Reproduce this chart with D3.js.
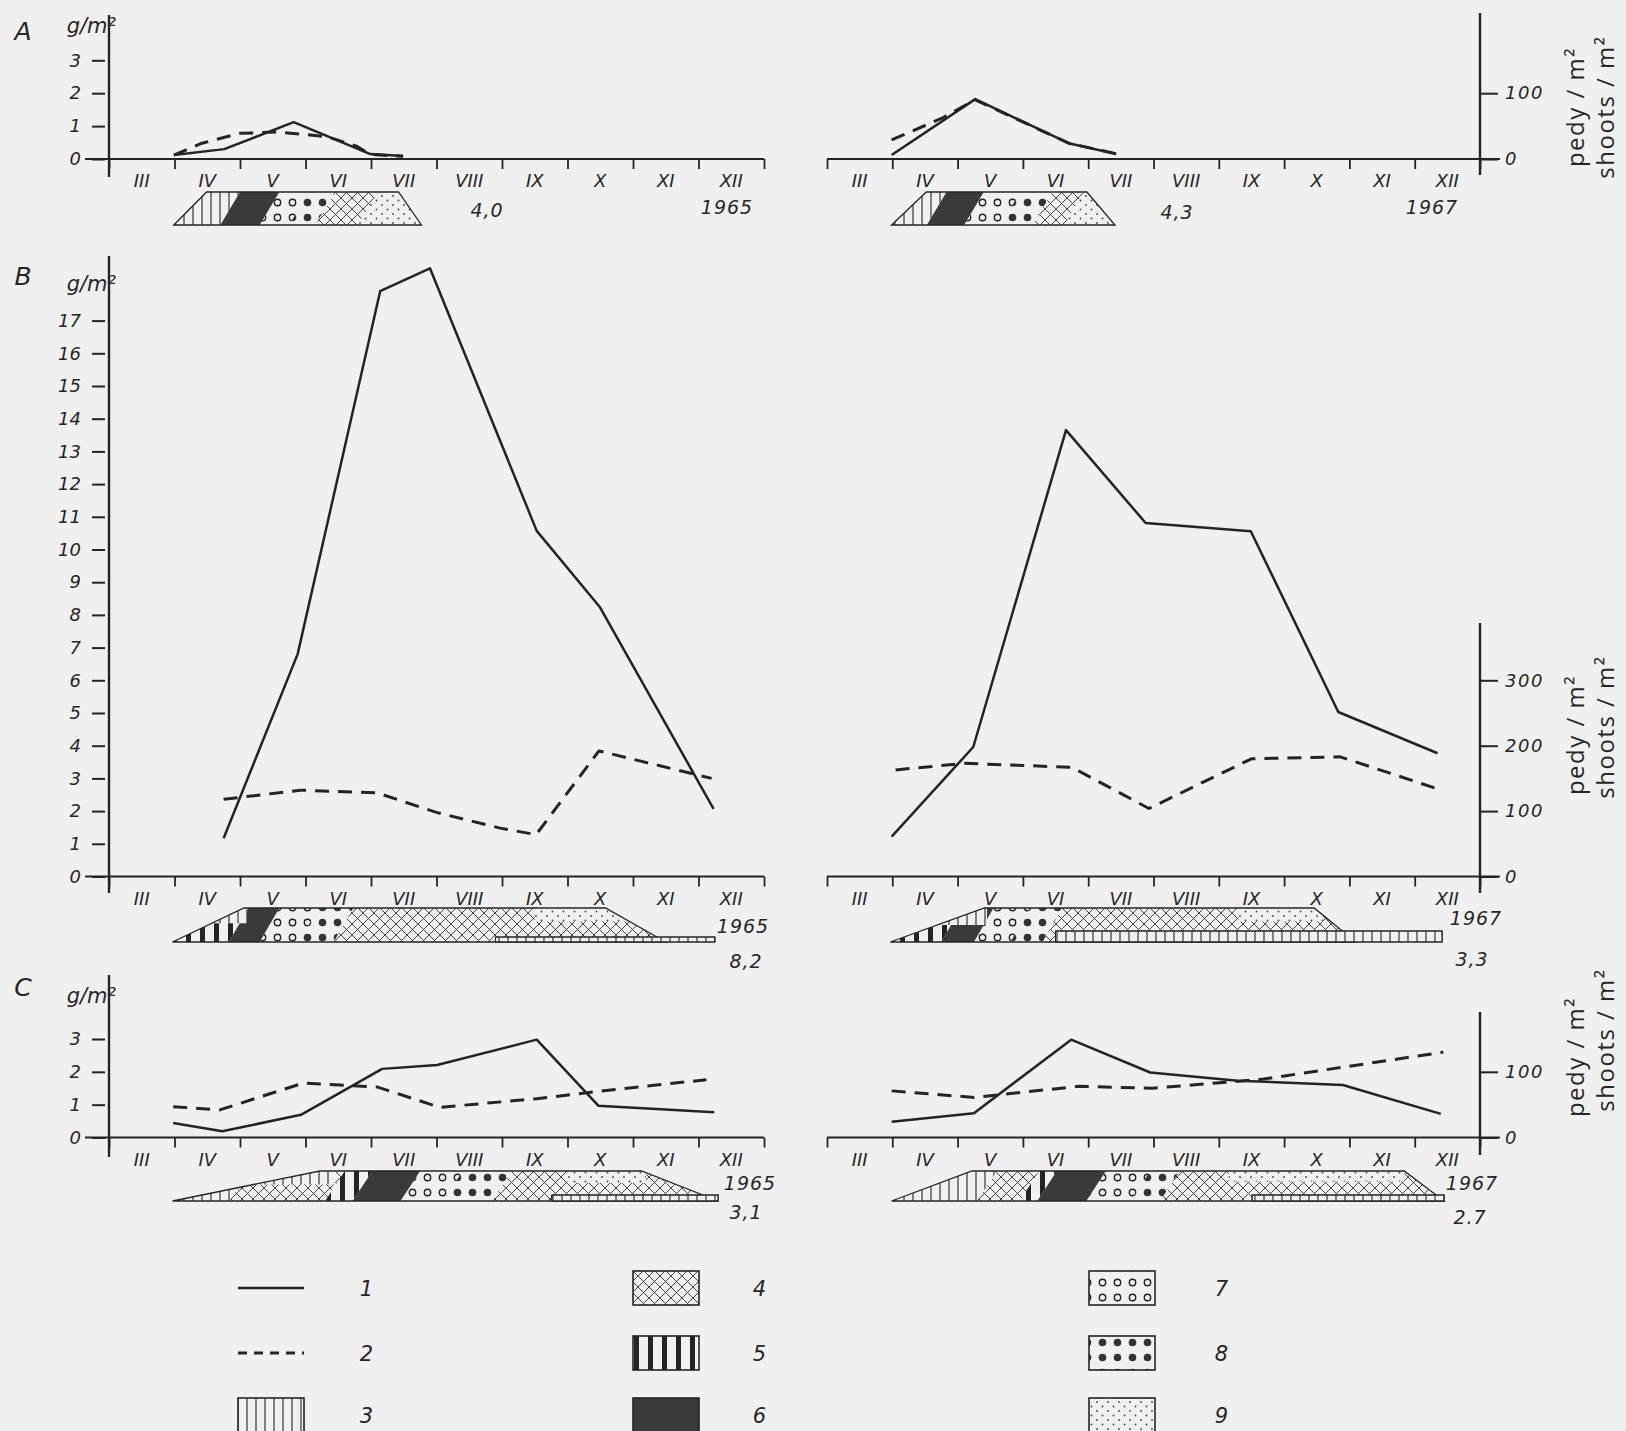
<!DOCTYPE html>
<html>
<head>
<meta charset="utf-8">
<script src="https://cdn.jsdelivr.net/npm/d3@7/dist/d3.min.js"></script>
<style>
  body { margin: 0; background: #f0f0f0; }
  svg { display: block; }
  text { font-family: "DejaVu Sans", sans-serif; fill: #262626; }
</style>
</head>
<body>
<svg id="fig" width="1626" height="1431"></svg>
<script>
// month position: 0 = start of March, 10 = end of December
const months = ['III', 'IV', 'V', 'VI', 'VII', 'VIII', 'IX', 'X', 'XI', 'XII'];

// A : biomass g/m2 (line 1) and shoots/m2 (line 2)
const a65Biomass = [[0.99, 0.12], [1.76, 0.30], [2.82, 1.12], [3.99, 0.15], [4.49, 0.09]];
const a65Shoots = [[0.99, 6], [1.42, 24], [2.0, 39], [2.58, 41], [3.33, 34], [3.79, 19], [3.99, 7], [4.49, 4]];
const a67Biomass = [[0.99, 0.12], [2.27, 1.82], [3.7, 0.48], [4.43, 0.15]];
const a67Shoots = [[0.99, 29], [1.76, 62], [2.27, 90], [3.7, 24], [4.43, 8]];
// B
const b65Biomass = [[1.75, 1.17], [2.88, 6.8], [4.14, 17.9], [4.9, 18.6], [6.53, 10.57], [7.49, 8.25], [9.23, 2.07]];
const b65Shoots = [[1.75, 118], [2.92, 132], [4.09, 128], [5.0, 98], [5.97, 74], [6.52, 64], [7.48, 192], [9.2, 150]];
const b67Biomass = [[0.99, 1.22], [2.24, 3.96], [3.66, 13.65], [4.88, 10.81], [6.49, 10.56], [7.83, 5.03], [9.35, 3.77]];
const b67Shoots = [[1.05, 163], [2.1, 173], [3.75, 167], [4.93, 104], [6.5, 180], [7.86, 183], [9.35, 134]];
// C
const c65Biomass = [[0.98, 0.44], [1.73, 0.19], [2.93, 0.69], [4.17, 2.09], [5.01, 2.21], [6.53, 2.98], [7.47, 0.97], [9.24, 0.77]];
const c65Shoots = [[0.98, 47], [1.69, 42], [2.97, 83], [4.09, 77], [5.05, 46], [6.53, 59], [7.45, 70], [9.12, 88]];
const c67Biomass = [[0.99, 0.48], [2.25, 0.74], [3.74, 2.98], [4.95, 1.98], [6.29, 1.73], [7.9, 1.6], [9.4, 0.72]];
const c67Shoots = [[0.99, 71], [2.25, 61], [3.86, 78], [4.99, 75], [6.69, 89], [9.44, 130]];

// tick values
const ticksA = [0, 1, 2, 3];
const ticksB = d3.range(0, 18);
const ticksC = [0, 1, 2, 3];
const shootTicksA = [0, 100];
const shootTicksB = [0, 100, 200, 300];
const shootTicksC = [0, 100];

// phenological phase strips: outline = [bottom start, top start, top end, bottom end]
// phases = [legend pattern, phase end]; overlays = [pattern, from, to, top frac, bottom frac]
const outlineA65 = [0.99, 1.49, 4.42, 4.77];
const phasesA65 = [['3', 1.85], ['6', 2.45], ['7', 2.9], ['8', 3.3], ['4', 3.95], ['9', 6]];
const outlineA67 = [0.99, 1.52, 3.98, 4.41];
const phasesA67 = [['3', 1.68], ['6', 2.25], ['7', 2.81], ['8', 3.3], ['4', 3.78], ['9', 6]];
const outlineB65 = [0.97, 2.06, 7.58, 8.5];
const phasesB65 = [['5', 1.98], ['6', 2.45], ['7', 3.05], ['8', 3.58], ['4', 10]];
const overlaysB65 = [['3', 0.9, 2.1, 0, 0.45], ['9', 6.5, 8.3, 0, 0.4]];
const baseB65 = [5.9, 9.25];
const outlineB67 = [0.97, 2.41, 7.46, 8.1];
const phasesB67 = [['5', 1.9], ['6', 2.4], ['7', 2.96], ['8', 3.45], ['4', 10]];
const overlaysB67 = [['3', 0.9, 2.45, 0, 0.5], ['9', 6.3, 7.6, 0, 0.4]];
const baseB67 = [3.5, 9.42];
const outlineC65 = [0.97, 3.22, 8.13, 9.3];
const phasesC65 = [['3', 1.99], ['4', 3.45], ['5', 3.87], ['6', 4.6], ['7', 5.25], ['8', 6.0], ['4', 10]];
const overlaysC65 = [['3', 1.99, 3.45, 0, 0.45], ['9', 7.0, 8.2, 0, 0.4]];
const baseC65 = [6.76, 9.3];
const outlineC67 = [0.99, 2.22, 8.84, 9.45];
const phasesC67 = [['3', 2.45], ['4', 3.1], ['5', 3.37], ['6', 4.12], ['7', 4.8], ['8', 5.25], ['4', 10]];
const overlaysC67 = [['9', 6.15, 8.84, 0, 0.35]];
const baseC67 = [6.51, 9.45];

const legendKeys = ['line', 'dash', '3', '4', '5', '6', '7', '8', '9'];

const svg = d3.select('#fig');
const defs = svg.append('defs');
const ink = '#242424';
const paper = '#f0f0f0';

const xL = d3.scaleLinear().domain([0, 10]).range([109, 764]);
const xR = d3.scaleLinear().domain([0, 10]).range([827, 1480]);
const yA = d3.scaleLinear().domain([0, 3]).range([159, 60.3]);
const yB = d3.scaleLinear().domain([0, 17]).range([876.5, 320.6]);
const yC = d3.scaleLinear().domain([0, 3]).range([1137.5, 1039]);
// 100 shoots/m2 sits at the height of 2 g/m2
const shootScale = y => d3.scaleLinear().domain([0, 100]).range([y(0), y(2)]);
const sA = shootScale(yA), sB = shootScale(yB), sC = shootScale(yC);

svg.append('rect').attr('width', 1626).attr('height', 1431).attr('fill', paper);

// hatch patterns of the legend
function pattern(id, w, h, draw) {
  const p = defs.append('pattern').attr('id', 'p' + id)
    .attr('patternUnits', 'userSpaceOnUse').attr('width', w).attr('height', h);
  draw(p);
}
pattern('3', 9, 10, p => p.append('line').attr('x1', 4).attr('x2', 4).attr('y1', 0).attr('y2', 10)
  .attr('stroke', ink).attr('stroke-width', 1.1));
pattern('4', 11, 11, p => p.append('path')
  .attr('d', 'M0,11L11,0M-2,2L2,-2M9,13L13,9M0,0L11,11M-2,9L2,13M9,-2L13,2')
  .attr('stroke', '#444').attr('stroke-width', 1).attr('fill', 'none'));
pattern('5', 14, 14, p => p.append('rect').attr('x', 4).attr('width', 5).attr('height', 14).attr('fill', ink));
pattern('6', 10, 10, p => p.append('rect').attr('width', 10).attr('height', 10).attr('fill', '#3a3a3a'));
pattern('7', 15, 15, p => p.append('circle').attr('cx', 7.5).attr('cy', 7.5).attr('r', 3.2)
  .attr('fill', 'none').attr('stroke', ink).attr('stroke-width', 1.4));
pattern('8', 15, 15, p => p.append('circle').attr('cx', 7.5).attr('cy', 7.5).attr('r', 3.8).attr('fill', '#333'));
pattern('9', 11, 9, p => {
  p.append('circle').attr('cx', 2.5).attr('cy', 2.5).attr('r', 0.9).attr('fill', '#444');
  p.append('circle').attr('cx', 8).attr('cy', 7).attr('r', 0.9).attr('fill', '#444');
});

const fontIt = sel => sel.style('font-style', 'italic');

function xAxis(x, zero, left) {
  const g = svg.append('g').attr('transform', `translate(0,${zero})`).attr('color', ink);
  g.call(d3.axisBottom(x).tickValues(d3.range(0, 11)).tickSize(10).tickFormat(''));
  g.select('.domain').remove();
  g.selectAll('.tick line').attr('stroke-width', 1.8);
  g.append('line').attr('x1', left ? x(0) - 24 : x(0)).attr('x2', left ? x(10) : x(10) + 20)
    .attr('stroke', ink).attr('stroke-width', 2);
  g.selectAll('.month').data(months).join('text').attr('class', 'month')
    .attr('x', (d, i) => x(i + 0.5)).attr('y', 28).attr('text-anchor', 'middle')
    .style('font-size', '18px').call(fontIt).text(d => d);
}

function yAxisLeft(y, ticks, top, bottom) {
  const g = svg.append('g').attr('transform', `translate(${xL(0)},0)`).attr('color', ink);
  g.call(d3.axisLeft(y).tickValues(ticks).tickSize(17).tickPadding(11).tickFormat(d3.format('d')));
  g.select('.domain').remove();
  g.selectAll('.tick line').attr('x1', -4).attr('stroke-width', 2);
  g.selectAll('.tick text').style('font-size', '18px').call(fontIt);
  g.append('line').attr('y1', top).attr('y2', bottom).attr('stroke', ink).attr('stroke-width', 2.4);
}

function yAxisRight(s, ticks, top, bottom) {
  const g = svg.append('g').attr('transform', `translate(${xR(10)},0)`).attr('color', ink);
  g.call(d3.axisRight(s).tickValues(ticks).tickSize(18).tickPadding(7).tickFormat(d3.format('d')));
  g.select('.domain').remove();
  g.selectAll('.tick line').attr('stroke-width', 2);
  g.selectAll('.tick text').style('font-size', '18px').style('letter-spacing', '1.5px').call(fontIt);
  g.append('line').attr('y1', top).attr('y2', bottom).attr('stroke', ink).attr('stroke-width', 2.4);
}

function rightTitle(cy1, cy2) {
  [['pedy / m²', 1584, cy1], ['shoots / m²', 1614, cy2]].forEach(([t, x, cy]) => {
    svg.append('text').attr('transform', `translate(${x},${cy}) rotate(-90)`)
      .attr('text-anchor', 'middle').style('font-size', '24px').style('letter-spacing', '1.5px')
      .style('font-family', '"Open Sans", sans-serif').text(t);
  });
}

function series(x, y, data, dashed) {
  svg.append('path').datum(data)
    .attr('d', d3.line().x(d => x(d[0])).y(d => y(d[1])))
    .attr('fill', 'none').attr('stroke', ink)
    .attr('stroke-width', dashed ? 3 : 2.5)
    .attr('stroke-dasharray', dashed ? '14 9' : null)
    .attr('stroke-linejoin', 'round');
}

let clipId = 0;
function strip(x, outline, phases, overlays, base, y0, y1, baseH) {
  const [b0, t0, t1, b1] = outline;
  const h = y1 - y0;
  const pts = [[x(b0), y1], [x(t0), y0], [x(t1), y0], [x(b1), y1]];
  const id = 'clip' + (clipId++);
  defs.append('clipPath').attr('id', id).append('polygon').attr('points', pts.join(' '));
  const g = svg.append('g');
  const inner = g.append('g').attr('clip-path', `url(#${id})`);
  const slant = 0.3;
  let prev = -1;
  phases.forEach(([p, end]) => {
    const poly = [[x(prev - slant / 2), y1], [x(prev + slant / 2), y0], [x(end + slant / 2), y0], [x(end - slant / 2), y1]];
    inner.append('polygon').attr('points', poly.join(' ')).attr('fill', `url(#p${p})`);
    prev = end;
  });
  (overlays || []).forEach(([p, from, to, f0, f1]) => {
    [paper, `url(#p${p})`].forEach(fill => inner.append('rect')
      .attr('x', x(from)).attr('width', x(to) - x(from))
      .attr('y', y0 + f0 * h).attr('height', (f1 - f0) * h).attr('fill', fill));
  });
  g.append('polygon').attr('points', pts.join(' ')).attr('fill', 'none')
    .attr('stroke', ink).attr('stroke-width', 1.3);
  if (base) {
    [paper, 'url(#p3)'].forEach(fill => g.append('rect')
      .attr('x', x(base[0])).attr('width', x(base[1]) - x(base[0]))
      .attr('y', y1 - baseH).attr('height', baseH).attr('fill', fill)
      .attr('stroke', ink).attr('stroke-width', 1));
  }
}

function note(x, y, t, size) {
  svg.append('text').attr('x', x).attr('y', y).attr('text-anchor', 'middle')
    .style('font-size', (size || 19) + 'px').style('letter-spacing', '1px').call(fontIt).text(t);
}

// ---- panel A
xAxis(xL, yA(0), true);
xAxis(xR, yA(0), false);
yAxisLeft(yA, ticksA, 15, 177);
yAxisRight(sA, shootTicksA, 13, 175);
rightTitle(107, 107);
series(xL, yA, a65Biomass, false);
series(xL, sA, a65Shoots, true);
series(xR, yA, a67Biomass, false);
series(xR, sA, a67Shoots, true);
strip(xL, outlineA65, phasesA65, [], null, 192, 225, 0);
strip(xR, outlineA67, phasesA67, [], null, 192, 225, 0);
note(487, 217, '4,0');
note(727, 214, '1965');
note(1177, 219, '4,3');
note(1432, 214, '1967');

// ---- panel B
xAxis(xL, yB(0), true);
xAxis(xR, yB(0), false);
yAxisLeft(yB, ticksB, 256, 893);
yAxisRight(sB, shootTicksB, 623, 893);
rightTitle(735, 727);
series(xL, yB, b65Biomass, false);
series(xL, sB, b65Shoots, true);
series(xR, yB, b67Biomass, false);
series(xR, sB, b67Shoots, true);
strip(xL, outlineB65, phasesB65, overlaysB65, baseB65, 908, 942, 5);
strip(xR, outlineB67, phasesB67, overlaysB67, baseB67, 908, 942, 11);
note(743, 933, '1965');
note(746, 968, '8,2');
note(1476, 925, '1967');
note(1472, 966, '3,3');

// ---- panel C
xAxis(xL, yC(0), true);
xAxis(xR, yC(0), false);
yAxisLeft(yC, ticksC, 975, 1157);
yAxisRight(sC, shootTicksC, 1012, 1155);
rightTitle(1057, 1040);
series(xL, yC, c65Biomass, false);
series(xL, sC, c65Shoots, true);
series(xR, yC, c67Biomass, false);
series(xR, sC, c67Shoots, true);
strip(xL, outlineC65, phasesC65, overlaysC65, baseC65, 1171, 1201, 6);
strip(xR, outlineC67, phasesC67, overlaysC67, baseC67, 1171, 1201, 6);
note(750, 1190, '1965');
note(746, 1219, '3,1');
note(1472, 1190, '1967');
note(1470, 1224, '2.7');

// panel letters and units
[['A', 31], ['B', 276], ['C', 987]].forEach(([t, y]) => {
  svg.append('text').attr('x', 23).attr('y', y + 9).attr('text-anchor', 'middle')
    .style('font-size', '25px').call(fontIt).text(t);
});
[33, 291, 1003].forEach(y => {
  svg.append('text').attr('x', 116).attr('y', y).attr('text-anchor', 'end')
    .style('font-size', '21px').call(fontIt).text('g/m²');
});

// ---- legend
const legCols = [[238, 367], [633, 760], [1089, 1222]];
const legRows = [1288, 1353, 1415];
legendKeys.forEach((k, i) => {
  const [bx, lx] = legCols[Math.floor(i / 3)];
  const cy = legRows[i % 3];
  if (k === 'line' || k === 'dash') {
    svg.append('line').attr('x1', bx).attr('x2', bx + 66).attr('y1', cy).attr('y2', cy)
      .attr('stroke', ink).attr('stroke-width', k === 'line' ? 2.5 : 2.8)
      .attr('stroke-dasharray', k === 'dash' ? '9 7' : null);
  } else {
    svg.append('rect').attr('x', bx).attr('y', cy - 17).attr('width', 66).attr('height', 34)
      .attr('fill', `url(#p${k})`).attr('stroke', ink).attr('stroke-width', 1.6);
  }
  note(lx, cy + 8, String(i + 1), 21);
});
</script>
</body>
</html>
